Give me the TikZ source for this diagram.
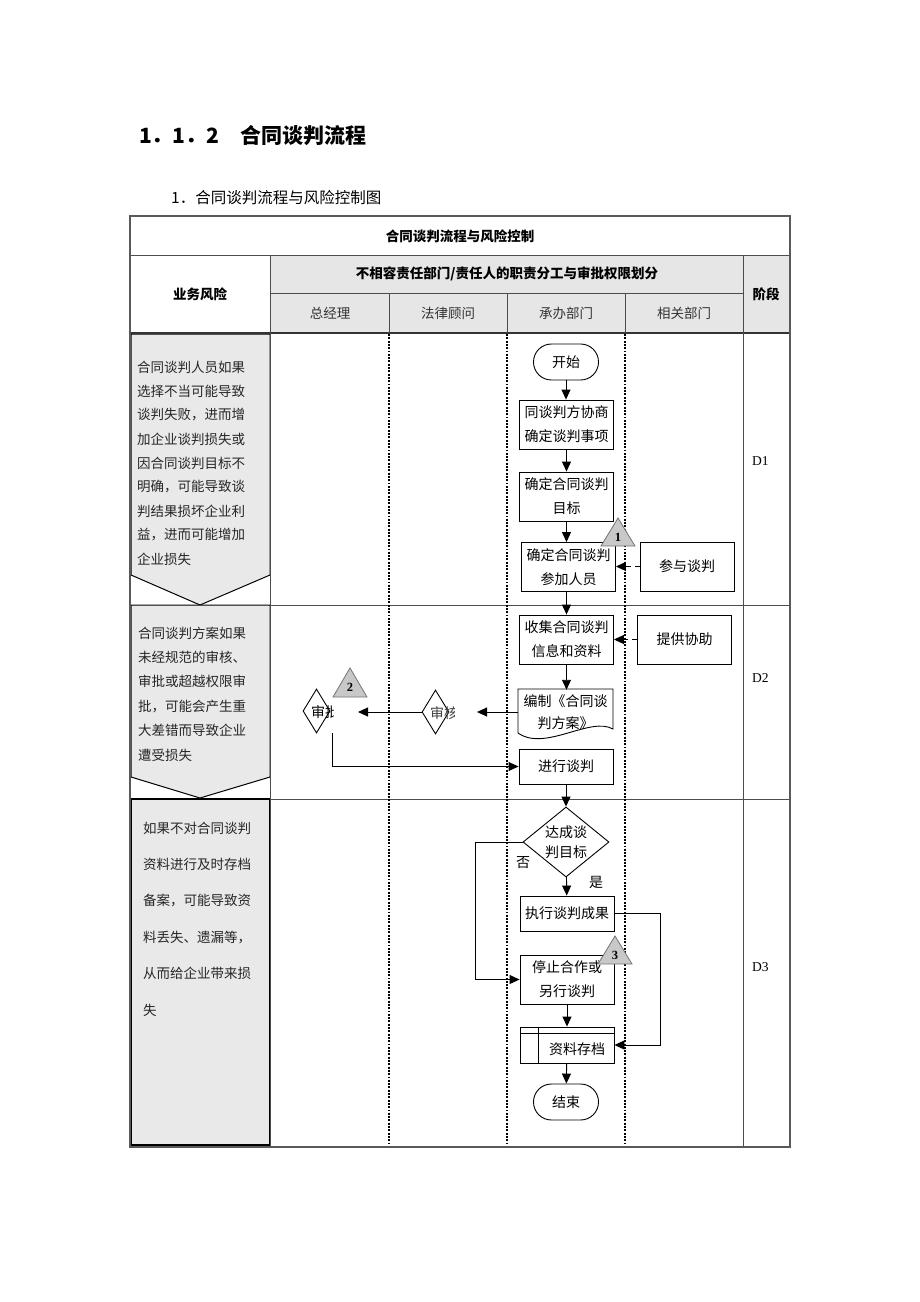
\documentclass[tikz,border=0pt]{standalone}
\usepackage{fontspec}
\setmainfont{Liberation Serif}
\newfontfamily\cjk{Noto Sans CJK SC}
\usetikzlibrary{arrows.meta,shapes.geometric}
\definecolor{hdrgray}{HTML}{E6E6E6}
\definecolor{riskgray}{HTML}{E9E9E9}
\definecolor{tri}{HTML}{C8C8C8}
\begin{document}
\begin{tikzpicture}[x=1pt,y=-1pt,
  tline/.style={draw=black!70, line width=1pt},
  outer/.style={draw=black!65, line width=1.8pt},
  lane/.style={line width=1.9pt, dash pattern=on 1.9pt off 1.4pt},
  riskfill/.style={fill=riskgray, draw=black, line width=1pt},
  txt/.style={font=\cjk\fontsize{14}{24}\selectfont, inner sep=0pt, align=center},
  hdtxt/.style={font=\cjk\bfseries\fontsize{13.5}{16}\selectfont, inner sep=0pt},
  subhd/.style={font=\cjk\fontsize{13.5}{16}\selectfont, inner sep=0pt, text=black!80},
  risk/.style={font=\cjk\fontsize{13.5}{16}\selectfont, inner sep=0pt, anchor=west, text=black!85},
  box/.style={draw, line width=0.9pt, fill=white, minimum width=94pt, minimum height=49pt, inner sep=0pt, align=center, font=\cjk\fontsize{14}{24}\selectfont},
  term/.style={box, minimum width=65pt, minimum height=36pt, rounded corners=17.9pt},
  dia/.style={draw, diamond, line width=0.9pt, fill=white, inner sep=0pt},
  arr/.style={-{Triangle[length=10pt,width=9pt]}, line width=0.9pt},
  darr/.style={arr, dash pattern=on 5pt off 4pt},
  trishape/.style={fill=tri, draw=black!55, line width=0.8pt},
  trinum/.style={font=\bfseries\fontsize{12.5}{14}\selectfont, inner sep=0pt},
  stage/.style={font=\fontsize{13.5}{16}\selectfont, inner sep=0pt, anchor=west}
]
\useasboundingbox (0,0) rectangle (920,1302);
\fill[white] (0,0) rectangle (920,1302);

% headings
\node[anchor=west, inner sep=0pt, font=\cjk\bfseries\fontsize{21}{25}\selectfont] (title) at (139,136) {1．1．2　合同谈判流程};
\node[anchor=west, inner sep=0pt, font=\cjk\fontsize{15.5}{18}\selectfont] (subtitle) at (171,198) {1．合同谈判流程与风险控制图};

% table fills
\fill[hdrgray] (270,255) rectangle (790,333);
\filldraw[riskfill] (131,334) -- (270,334) -- (270,575) -- (200,605) -- (131,575) -- cycle;
\filldraw[riskfill] (131,605) -- (270,605) -- (270,777) -- (200,798) -- (131,777) -- cycle;
\filldraw[riskfill, line width=1.5pt] (131,799) rectangle (270,1145);

% table lines
\draw[tline] (130,255) -- (790,255);
\draw[tline] (270,293) -- (743,293);
\draw[tline, line width=1.5pt, draw=black!80] (130,333) -- (790,333);
\draw[tline] (270,605) -- (790,605);
\draw[tline] (270,799) -- (790,799);
\draw[tline] (270,255) -- (270,1147);
\draw[tline] (743,255) -- (743,1147);
\draw[tline] (389,293) -- (389,333);
\draw[tline] (507,293) -- (507,333);
\draw[tline] (625,293) -- (625,333);
\draw[lane] (389,334) -- (389,1146);
\draw[lane] (507,334) -- (507,1146);
\draw[lane] (625,334) -- (625,1146);
\draw[outer] (130,216) rectangle (790,1147);

% header texts
\node[hdtxt] (h0) at (460,236) {合同谈判流程与风险控制};
\node[hdtxt] (h1) at (507,274) {不相容责任部门/责任人的职责分工与审批权限划分};
\node[hdtxt] (h2) at (200,294) {业务风险};
\node[hdtxt] (h3) at (766,294) {阶段};
\node[subhd] (c1h) at (330,313) {总经理};
\node[subhd] (c2h) at (448,313) {法律顾问};
\node[subhd] (c3h) at (566,313) {承办部门};
\node[subhd] (c4h) at (684,313) {相关部门};

% risk texts
\foreach \t [count=\i from 0] in {合同谈判人员如果,选择不当可能导致,谈判失败，进而增,加企业谈判损失或,因合同谈判目标不,明确，可能导致谈,判结果损坏企业利,益，进而可能增加,企业损失}
  \node[risk] (ra\i) at (137,{367+24*\i}) {\t};
\foreach \t [count=\i from 0] in {合同谈判方案如果,未经规范的审核、,审批或超越权限审,批，可能会产生重,大差错而导致企业,遭受损失}
  \node[risk] (rb\i) at (138,{633+24.4*\i}) {\t};
\foreach \t [count=\i from 0] in {如果不对合同谈判,资料进行及时存档,备案，可能导致资,料丢失、遗漏等，,从而给企业带来损,失}
  \node[risk] (rc\i) at (143,{828+36.4*\i}) {\t};

% stage labels
\node[stage] (d1) at (752,461) {D1};
\node[stage] (d2) at (752,678) {D2};
\node[stage] (d3) at (752,967) {D3};

% flow nodes
\node[term] (start) at (566,362) {开始};
\node[box] (s1) at (566.5,424.5) {同谈判方协商\\确定谈判事项};
\node[box] (s2) at (566.5,496.5) {确定合同谈判\\目标};
\node[box] (s3) at (568.5,567) {确定合同谈判\\参加人员};
\node[box] (p1) at (687,566.5) {参与谈判};
\node[box] (s4) at (566.5,639.5) {收集合同谈判\\信息和资料};
\node[box] (p2) at (684.5,639.5) {提供协助};
% document shape
\draw[line width=0.9pt, fill=white] (518,689) -- (613,689) -- (613,729) .. controls (590,716) and (545,752) .. (518,733) -- cycle;
\node[txt, minimum width=95pt, minimum height=44pt, font=\cjk\fontsize{14}{22}\selectfont] (s5) at (565.5,712) {编制《合同谈\\判方案》};
\coordinate (freeA) at (477,712);
\node[dia, minimum width=27pt, minimum height=44pt] (sh1) at (435.5,712) {};
\coordinate (freeB) at (358,712);
\node[dia, minimum width=27pt, minimum height=44pt] (sp) at (316.5,711) {};
\begin{scope}
  \clip (300,688) rectangle (333,736);
  \node[txt] (spt) at (325,712) {审批};
\end{scope}
\begin{scope}
  \clip (420,688) rectangle (454,736);
  \node[txt, text=black!75] (sh1t) at (444,713) {审核};
\end{scope}
\coordinate (c1) at (332,733);
\node[box, minimum height=35pt] (s6) at (566,766.5) {进行谈判};
\node[dia, minimum width=86pt, minimum height=70pt] (goal) at (566,842) {};
\node[txt, font=\cjk\fontsize{14}{20}\selectfont] (goalt) at (566,842) {达成谈\\判目标};
\node[box, minimum height=35pt] (s7) at (567,913.5) {执行谈判成果};
\node[box] (s8) at (567,979.5) {停止合作或\\另行谈判};
\node[box, minimum height=36pt] (s9) at (567,1045) {};
\node[txt] (s9t) at (577,1049) {资料存档};
\draw[line width=0.9pt] ([yshift=-7pt]s9.north west) -- ([yshift=-7pt]s9.north east);
\draw[line width=0.9pt] ([xshift=19pt]s9.north west) -- ([xshift=19pt]s9.south west);
\node[term] (end) at (566,1102) {结束};
\node[txt] (no) at (523,863) {否};
\node[txt] (yes) at (596,882) {是};
\coordinate (g1) at (475,842);
\coordinate (g2) at (660,913.5);

% connectors
\draw[arr] (start) -- (start |- s1.north);
\draw[arr] (s1) -- (s2);
\draw[arr] (s2.south) -- (s2.south |- s3.north);
\draw[darr] (p1.west) -- (s3.east |- p1.west);
\draw[arr] (s4.north |- s3.south) -- (s4.north);
\draw[darr] (p2) -- (s4);
\draw[arr] (s4.south) -- (s4.south |- s5.north);
\draw[arr] (s5.west) -- (freeA);
\draw[arr] (sh1.west) -- (freeB);
\draw[arr] (c1) |- (s6.west);
\draw[arr] (s6) -- (goal);
\draw[arr] (goal) -- (s7);
\draw[arr] (goal.west) -- (g1) |- (s8.west);
\draw[arr] (s7.east) -- (g2) |- (s9.east);
\draw[arr] (s8) -- (s9);
\draw[arr] (s9) -- (end);

% risk triangles
\filldraw[trishape] (618,518) -- (635,546) -- (601,546) -- cycle;
\node[trinum] (t1) at (618,537) {1};
\filldraw[trishape] (350,668) -- (367,697) -- (333,697) -- cycle;
\node[trinum] (t2) at (350,687) {2};
\filldraw[trishape] (615,936) -- (632,964) -- (598,964) -- cycle;
\node[trinum] (t3) at (615,955) {3};
\end{tikzpicture}
\end{document}
